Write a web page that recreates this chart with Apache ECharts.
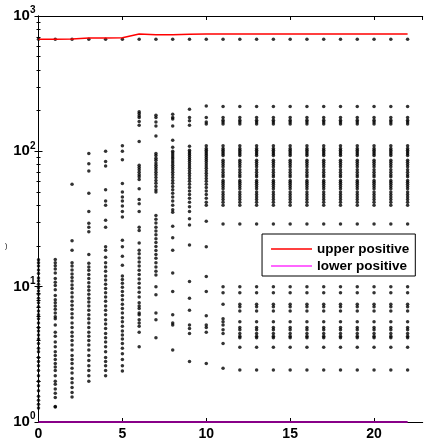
<!DOCTYPE html>
<html>
<head>
<meta charset="utf-8">
<script src="https://cdn.jsdelivr.net/npm/echarts@6/dist/echarts.min.js"></script>
<style>
html,body{margin:0;padding:0;background:#fff}
#chart{width:424px;height:441px}
</style>
</head>
<body>
<div id="chart"></div>
<script>
// x positions 0..22
var steps = [0,1,2,3,4,5,6,7,8,9,10,11,12,13,14,15,16,17,18,19,20,21,22];

// upper / lower positive bounds
var upper = [672,672,676,688,688,691,736,728,728,732,736,736,736,736,736,736,736,736,736,736,736,736,736];
var lower = [1,1,1,1,1,1,1,1,1,1,1,1,1,1,1,1,1,1,1,1,1,1,1];

// dot at the top of every column
var topDot = 672;

// scattered values per column
var col0 = [15.8,15.0,14.2,13.3,12.5,11.6,11.0,10.4,9.8,9.3,8.8,8.2,7.6,7.1,6.6,6.2,5.8,5.4,5.0,4.7,4.4,4.1,3.8,3.5,3.3,3.0,2.8,2.6,2.4,2.2,2.0,1.85,1.7,1.55,1.45,1.35,1.27];
var col1 = [15.9,15.0,14.3,13.5,12.6,11.5,10.8,10.2,9.5,8.6,8.0,7.6,7.2,6.8,6.4,6.0,5.8,5.2,4.6,4.3,3.9,3.6,3.3,3.1,2.9,2.7,2.55,2.4,2.2,2.0,1.9,1.75,1.63,1.52,1.30,1.29];
var col2 = [57,21.8,18.6,15.0,14.2,13.3,12.4,11.7,11.0,10.3,9.7,9.0,8.4,7.8,7.3,6.8,6.3,5.9,5.4,5.0,4.6,4.3,4.0,3.7,3.4,3.1,2.9,2.7,2.5,2.3,2.1,1.95,1.8,1.65,1.53];
var col3 = [96.5,81,71.5,49,35.9,29.4,27.5,25.5,17.3,14.9,14.0,13.2,12.3,11.5,10.7,10.0,9.4,8.8,8.2,7.7,7.2,6.7,6.2,5.8,5.4,5.0,4.6,4.3,4.0,3.7,3.4,3.1,2.85,2.6,2.4,2.2,2.0];
var col4 = [100,84,78,52,43,40,31,27.5,19.7,18.6,16.5,15.0,14.0,13.0,12.0,11.2,10.4,9.7,9.0,8.4,7.8,7.2,6.7,6.2,5.7,5.3,4.9,4.5,4.2,3.9,3.6,3.3,3.0,2.8,2.6,2.4,2.2];
var col5 = [110,100,86.5,57.9,50,46,43,39.5,35.9,32.7,22,19.7,16.8,14.4,12.0,11.3,10.6,9.9,9.2,8.6,8.0,7.4,6.9,6.4,5.9,5.5,5.1,4.7,4.4,4.1,3.8,3.5,3.2,2.9,2.6,2.38];
var col6 = [196,190,183,178,166,156,118,79,76,73,70,67,65,62,53,44,41,36,27.5,26,21,18.6,17.5,16.3,15.2,14.2,13.2,12.3,11.4,10.6,9.8,9.1,8.4,7.6,7.2,6.9,6.4,6.2,5.7,5.4,5.1,4.6,3.6];
var col7 = [185,178,165,154,130,96.5,93,89,86,82,79,76,73,70,67,64,61,58,55,52,50,33.6,31.5,29.5,27.5,25.8,24.2,22.6,21.2,19.8,18.5,17.3,16.2,15.0,14.0,13.0,12.2,10.0,8.7,6.4,5.7,4.2];
var col8 = [188,178,173,154,121,107,100,97,94,91,88,85,82,79,76,73,70,67,64,61,58,55,52,49,46,43,40,37,35.5,28,23,18.6,12.6,9.2,6.2,5.4,5.2,3.4];
var col9 = [205,178,168,156,109,102,99,96,93,90,87,84,81,78,75,72,69,66,63,60,57,54,51,48,45,42,39,35.9,31.8,28.5,20.3,10.9,8.2,6.7,5.2,4.9,4.5,2.8];
var col10 = [216,178,165,159,110,105,102,99,96,93,90,87,84,81,78,75,72,69,66,63,60,57,54,51,48,45,42,40,30.4,19.7,11.9,9.2,6.1,5.2,5.0,4.6,2.7];
var col11 = [214,178,170,165,159,110,105,102,99,96,93,86,83,80,77,73,70,67,65,61,59,57,55,53,50,48,46,44,42,40,29,10,9.0,7.4,5.8,5.5,5.2,4.8,4.5,3.8,2.5];
// columns 12..22 look identical
var steadyCol = [214,178,170,165,159,110,105,102,99,96,93,86,83,80,77,73,70,67,65,61,59,57,55,53,50,48,46,44,42,40,29,10.0,9.0,7.4,7.1,6.6,5.5,5.0,4.8,4.5,4.3,4.2,3.56,2.42];

var xTicks = [0,5,10,15,20];

var columns = [col0,col1,col2,col3,col4,col5,col6,col7,col8,col9,col10,col11];
var dots = [];
steps.forEach(function(x){
    var col = x < columns.length ? columns[x] : steadyCol;
    dots.push([x, topDot]);
    col.forEach(function(v){ dots.push([x, v]); });
});

var myChart = echarts.init(document.getElementById('chart'));
var font = '"Liberation Sans", Arial, sans-serif';
var option = {
    animation: false,
    grid: {left: 38.5, right: 1.3, top: 16, bottom: 19},
    legend: {
        orient: 'vertical',
        right: 8.7,
        top: 234,
        backgroundColor: '#fff',
        borderColor: '#000',
        borderWidth: 1,
        padding: [8, 6, 3, 9],
        itemGap: 3,
        itemWidth: 41,
        itemHeight: 1.5,
        icon: 'rect',
        textStyle: {color: '#000', fontWeight: 'bold', fontSize: 13.5, fontFamily: font},
        data: [
            {name: 'upper positive'},
            {name: 'lower positive', itemStyle: {color: '#ff33ff'}}
        ]
    },
    xAxis: [{
        type: 'value', min: 0, max: 22.9, interval: 5,
        axisLine: {lineStyle: {color: '#000', width: 1}},
        axisTick: {inside: true, length: 4, lineStyle: {color: '#000'}},
        axisLabel: {
            showMaxLabel: false, margin: 5, color: '#000',
            fontWeight: 'bold', fontSize: 14, fontFamily: font,
            formatter: function(v){ return xTicks.indexOf(v) >= 0 ? String(v) : ''; }
        },
        splitLine: {show: false}
    }, {
        type: 'value', position: 'top', min: 0, max: 22.9, interval: 5,
        axisLine: {lineStyle: {color: '#000', width: 1}},
        axisTick: {inside: true, length: 4, lineStyle: {color: '#000'}},
        axisLabel: {show: false},
        splitLine: {show: false}
    }],
    yAxis: [{
        type: 'log', logBase: 10, min: 1, max: 1000,
        axisLine: {lineStyle: {color: '#000', width: 1}},
        axisTick: {inside: true, length: 4, lineStyle: {color: '#000'}},
        minorTick: {show: true, splitNumber: 9, length: 2, lineStyle: {color: '#000'}},
        axisLabel: {
            margin: 3,
            formatter: function(v){
                return '{b|10}{s|' + Math.round(Math.log(v) / Math.LN10) + '}';
            },
            rich: {
                b: {fontSize: 15, fontWeight: 'bold', color: '#000', fontFamily: font, verticalAlign: 'bottom', lineHeight: 15},
                s: {fontSize: 10, fontWeight: 'bold', color: '#000', fontFamily: font, verticalAlign: 'bottom', lineHeight: 10, padding: [0, 0, 8, 0]}
            }
        },
        splitLine: {show: false}
    }, {
        type: 'log', logBase: 10, min: 1, max: 1000, position: 'right',
        axisLine: {lineStyle: {color: '#000', width: 1}},
        axisTick: {inside: true, length: 4, lineStyle: {color: '#000'}},
        minorTick: {show: true, splitNumber: 9, length: 2, lineStyle: {color: '#000'}},
        axisLabel: {show: false},
        splitLine: {show: false}
    }],
    series: [{
        name: 'dots',
        type: 'scatter',
        symbolSize: 3.5,
        itemStyle: {color: '#000'},
        data: dots,
        z: 2
    }, {
        name: 'upper positive',
        type: 'line',
        symbol: 'none',
        lineStyle: {color: '#ff0000', width: 1.5},
        itemStyle: {color: '#ff0000'},
        data: steps.map(function(x, i){ return [x, upper[i]]; }),
        z: 3
    }, {
        name: 'lower positive',
        type: 'line',
        symbol: 'none',
        clip: false,
        lineStyle: {color: '#880088', width: 2},
        itemStyle: {color: '#880088'},
        data: steps.map(function(x, i){ return [x, lower[i]]; }),
        z: 3
    }],
    graphic: [{
        type: 'text', left: 5, top: 243,
        style: {text: ')', fontSize: 7, fill: '#000', fontFamily: font}
    }]
};
myChart.setOption(option);
</script>
</body>
</html>
